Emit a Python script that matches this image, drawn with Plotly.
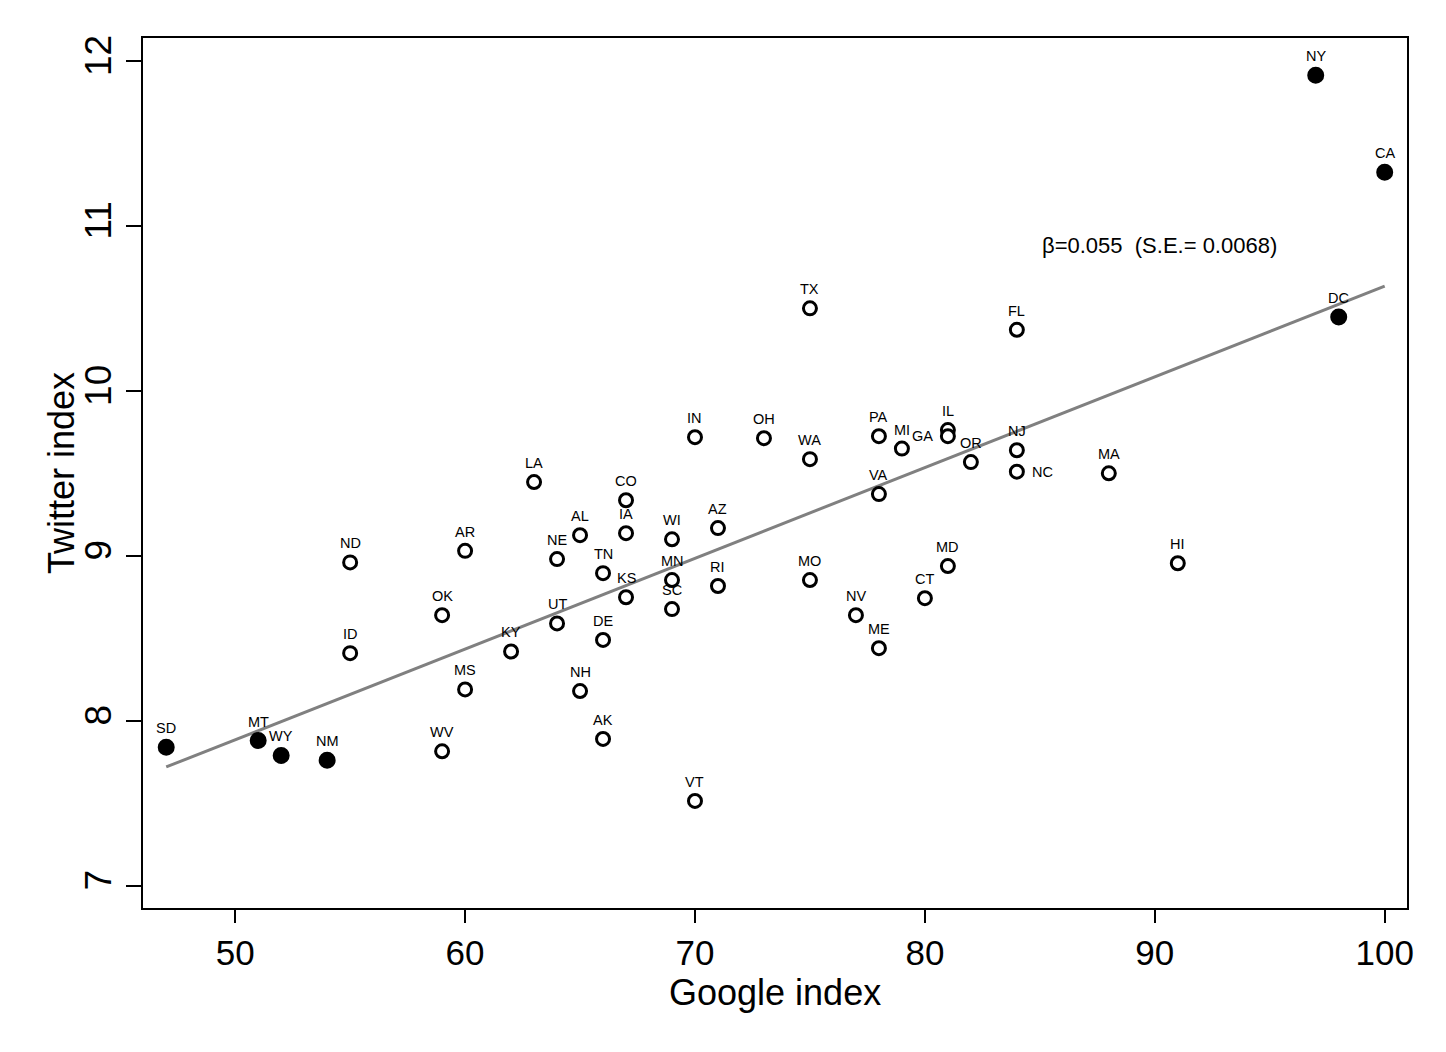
import plotly.graph_objects as go

# ---------------- data ----------------
states = ["SD", "MT", "WY", "NM", "WV", "ND", "ID", "OK", "AR", "MS",
          "LA", "KY", "NE", "UT", "AL", "NH", "TN", "DE", "AK", "CO",
          "IA", "KS", "WI", "MN", "SC", "IN", "VT", "AZ", "RI", "OH",
          "WA", "MO", "TX", "NV", "PA", "VA", "ME", "MI", "CT", "IL",
          "GA", "MD", "OR", "NJ", "NC", "FL", "MA", "HI", "NY", "CA", "DC"]
google_index = [47, 51, 52, 54, 59, 55, 55, 59, 60, 60,
                63, 62, 64, 64, 65, 65, 66, 66, 66, 67,
                67, 67, 69, 69, 69, 70, 70, 71, 71, 73,
                75, 75, 75, 77, 78, 78, 78, 79, 80, 81,
                81, 81, 82, 84, 84, 84, 88, 91, 97, 100, 98]
twitter_index = [7.84, 7.88, 7.79, 7.76, 7.815, 8.96, 8.41, 8.64, 9.03, 8.19,
                 9.447, 8.42, 8.98, 8.59, 9.125, 8.18, 8.895, 8.49, 7.89, 9.337,
                 9.137, 8.749, 9.10, 8.853, 8.677, 9.719, 7.514, 9.168, 8.817, 9.713,
                 9.586, 8.853, 10.50, 8.64, 9.725, 9.374, 8.44, 9.65, 8.743, 9.762,
                 9.725, 8.938, 9.568, 9.64, 9.51, 10.37, 9.50, 8.955, 11.913, 11.325, 10.447]
filled_states = ["SD", "MT", "WY", "NM", "NY", "CA", "DC"]

fit_intercept = 5.135
fit_slope = 0.055
annotation_text = "β=0.055  (S.E.= 0.0068)"
annotation_pos = (90.2, 10.88)

x_ticks = [50, 60, 70, 80, 90, 100]
y_ticks = [7, 8, 9, 10, 11, 12]
x_title = "Google index"
y_title = "Twitter index"

# ---------------- styling ----------------
FONT = "Liberation Sans, Arial, sans-serif"
label_side = {"GA": "left", "NC": "right"}

fig = go.Figure()

# regression line over data range
x_lo, x_hi = min(google_index), max(google_index)
fig.add_trace(go.Scatter(
    x=[x_lo, x_hi],
    y=[fit_intercept + fit_slope * x_lo, fit_intercept + fit_slope * x_hi],
    mode="lines", line=dict(color="#808080", width=3),
    hoverinfo="skip", showlegend=False))

open_x = [g for s, g in zip(states, google_index) if s not in filled_states]
open_y = [t for s, t in zip(states, twitter_index) if s not in filled_states]
fill_x = [g for s, g in zip(states, google_index) if s in filled_states]
fill_y = [t for s, t in zip(states, twitter_index) if s in filled_states]

fig.add_trace(go.Scatter(
    x=open_x, y=open_y, mode="markers",
    marker=dict(symbol="circle", size=13, color="white",
                line=dict(color="black", width=3)),
    showlegend=False))
fig.add_trace(go.Scatter(
    x=fill_x, y=fill_y, mode="markers",
    marker=dict(symbol="circle", size=15, color="black",
                line=dict(color="black", width=2)),
    showlegend=False))

annotations = []
for s, g, t in zip(states, google_index, twitter_index):
    side = label_side.get(s, "top")
    if side == "top":
        xs, ys, xa = 0, 19, "center"
    elif side == "left":
        xs, ys, xa = -13, 0, "right"
    else:
        xs, ys, xa = 13, 0, "left"
    annotations.append(dict(
        x=g, y=t, xref="x", yref="y", text=s, showarrow=False,
        xshift=xs, yshift=ys, xanchor=xa, yanchor="middle",
        font=dict(family=FONT, size=14.5, color="black")))

annotations.append(dict(
    x=annotation_pos[0], y=annotation_pos[1], xref="x", yref="y",
    text=annotation_text, showarrow=False, xanchor="center", yanchor="middle",
    font=dict(family=FONT, size=22, color="black")))

# axis titles placed as annotations for exact position
annotations.append(dict(
    x=0.5, y=0, xref="paper", yref="paper", text=x_title, showarrow=False,
    xanchor="center", yanchor="middle", yshift=-84,
    font=dict(family=FONT, size=36, color="black")))
annotations.append(dict(
    x=0, y=0.5, xref="paper", yref="paper", text=y_title, showarrow=False,
    xanchor="center", yanchor="middle", xshift=-82, textangle=-90,
    font=dict(family=FONT, size=36, color="black")))

fig.update_layout(
    width=1446, height=1052,
    margin=dict(l=135, r=47, t=30, b=152),
    paper_bgcolor="white", plot_bgcolor="white",
    font=dict(family=FONT, color="black"),
    annotations=annotations,
    showlegend=False,
)
fig.update_xaxes(
    range=[45.99, 100.97], tickvals=x_ticks, ticktext=[str(v) for v in x_ticks],
    showgrid=False, zeroline=False,
    showline=True, linecolor="black", linewidth=2, mirror=True,
    ticks="outside", ticklen=13, tickwidth=2, tickcolor="black",
    tickfont=dict(family=FONT, size=35, color="black"),
)
fig.update_yaxes(
    range=[6.865, 12.139], tickvals=y_ticks, ticktext=[str(v) for v in y_ticks],
    showgrid=False, zeroline=False,
    showline=True, linecolor="black", linewidth=2, mirror=True,
    ticks="outside", ticklen=15, tickwidth=2, tickcolor="black",
    tickangle=-90,
    tickfont=dict(family=FONT, size=37, color="black"),
)

fig.write_html("out.html")
